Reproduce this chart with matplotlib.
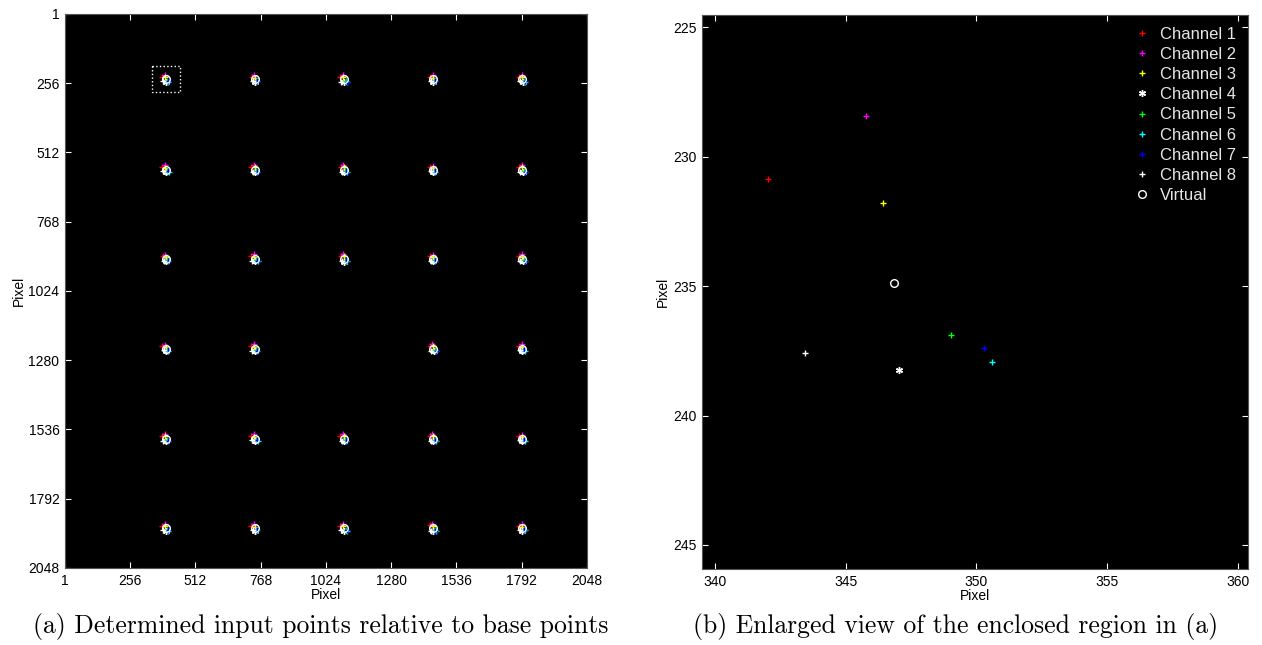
import matplotlib
matplotlib.use("Agg")
import matplotlib.pyplot as plt
from matplotlib.patches import Rectangle

# ---------------------------------------------------------------------------
# Panel (a): virtual grid points (image pixels) and per-channel offsets
# ---------------------------------------------------------------------------
grid_cols = [396, 745, 1095, 1445, 1795]
grid_rows = [243, 576, 906, 1238, 1570, 1902]
# (row, column) grid positions without a detected point
missing_cells = [(3, 2)]

# Offsets of each channel's input point from its virtual point (pixels),
# listed row by row over the detected grid points
ch1_dx = [-13, -12, -14, -12, -15, -13, -13, -12, -14, -13, -12, -14, -13, -14, -13,
          -13, -14, -12, -13, -14, -13, -14, -12, -15, -13, -13, -14, -12, -13]
ch1_dy = [-10, -9, -11, -9, -10, -10, -10, -11, -9, -10, -9, -10, -11, -9, -10,
          -9, -10, -11, -9, -10, -9, -11, -10, -9, -10, -9, -10, -11, -9]
ch2_dx = [-3, -2, -4, -2, -3, -4, -2, -3, -2, -3, -2, -4, -3, -2, -3,
          -2, -3, -4, -2, -3, -4, -2, -3, -2, -3, -2, -4, -3, -2]
ch2_dy = [-17, -16, -18, -15, -17, -16, -17, -18, -15, -17, -16, -17, -18, -16, -17,
          -15, -17, -18, -16, -17, -16, -18, -17, -15, -17, -16, -17, -18, -16]
ch3_dx = [-1, 0, -2, 0, -1, -2, 0, -1, 0, -1, 0, -2, -1, 0, -1,
          0, -1, -2, 0, -1, -2, 0, -1, 0, -1, 0, -2, -1, 0]
ch3_dy = [-8, -7, -9, -7, -8, -7, -8, -9, -7, -8, -7, -8, -9, -7, -8,
          -7, -8, -9, -7, -8, -7, -9, -8, -7, -8, -7, -8, -9, -7]
ch4_dx = [1, 0, 2, 0, 1, 2, 0, 1, 0, 1, 0, 2, 1, 0, 1,
          0, 1, 2, 0, 1, 2, 0, 1, 0, 1, 0, 2, 1, 0]
ch4_dy = [9, 8, 10, 8, 9, 8, 9, 10, 8, 9, 8, 9, 10, 8, 9,
          8, 9, 10, 8, 9, 8, 10, 9, 8, 9, 8, 9, 10, 8]
ch5_dx = [6, 5, 7, 5, 6, 7, 5, 6, 5, 6, 5, 7, 6, 5, 6,
          5, 6, 7, 5, 6, 7, 5, 6, 5, 6, 5, 7, 6, 5]
ch5_dy = [5, 4, 6, 4, 5, 4, 5, 6, 4, 5, 4, 5, 6, 4, 5,
          4, 5, 6, 4, 5, 4, 6, 5, 4, 5, 4, 5, 6, 4]
ch6_dx = [10, 9, 11, 9, 10, 11, 9, 10, 9, 10, 9, 11, 10, 9, 10,
          9, 10, 11, 9, 10, 11, 9, 10, 9, 10, 9, 11, 10, 9]
ch6_dy = [8, 7, 9, 7, 8, 7, 8, 9, 7, 8, 7, 8, 9, 7, 8,
          7, 8, 9, 7, 8, 7, 9, 8, 7, 8, 7, 8, 9, 7]
ch7_dx = [9, 8, 10, 8, 9, 10, 8, 9, 8, 9, 8, 10, 9, 8, 9,
          8, 9, 10, 8, 9, 10, 8, 9, 8, 9, 8, 10, 9, 8]
ch7_dy = [7, 6, 8, 6, 7, 6, 7, 8, 6, 7, 6, 7, 8, 6, 7,
          6, 7, 8, 6, 7, 6, 8, 7, 6, 7, 6, 7, 8, 6]
ch8_dx = [-9, -8, -10, -8, -9, -10, -8, -9, -8, -9, -8, -10, -9, -8, -9,
          -8, -9, -10, -8, -9, -10, -8, -9, -8, -9, -8, -10, -9, -8]
ch8_dy = [7, 6, 8, 6, 7, 6, 7, 8, 6, 7, 6, 7, 8, 6, 7,
          6, 7, 8, 6, 7, 6, 8, 7, 6, 7, 6, 7, 8, 6]

# Region enclosed by the dotted box (pixels)
box_x0, box_x1 = 342, 452
box_y0, box_y1 = 192, 288

# ---------------------------------------------------------------------------
# Panel (b): enlarged view of one grid point
# ---------------------------------------------------------------------------
zoom_ch_x = [342.02, 345.79, 346.44, 347.05, 349.02, 350.60, 350.29, 343.44]
zoom_ch_y = [230.87, 228.41, 231.78, 238.23, 236.88, 237.93, 237.38, 237.57]
zoom_virt_x = [346.83]
zoom_virt_y = [234.88]

channel_labels = ["Channel 1", "Channel 2", "Channel 3", "Channel 4",
                  "Channel 5", "Channel 6", "Channel 7", "Channel 8"]
channel_colors = ["#ff0000", "#ff00ff", "#ffff00", "#ffffff",
                  "#00ff00", "#00ffff", "#0000ff", "#ffffff"]
channel_markers = ["+", "+", "+", (6, 2, 0), "+", "+", "+", "+"]
virtual_label = "Virtual"

tick_pix = [1, 256, 512, 768, 1024, 1280, 1536, 1792, 2048]
zoom_xticks = [340, 345, 350, 355, 360]
zoom_yticks = [225, 230, 235, 240, 245]

# ---------------------------------------------------------------------------
plt.rcParams["font.family"] = ["Liberation Sans", "DejaVu Sans"]
plt.rcParams["font.size"] = 10

fig = plt.figure(figsize=(12.62, 6.45), dpi=100)
ax_a = fig.add_axes([0.0515, 0.1194, 0.4136, 0.8589])
ax_b = fig.add_axes([0.5563, 0.1178, 0.4326, 0.8589])


def style_axes(ax):
    ax.set_facecolor("black")
    for sp in ax.spines.values():
        sp.set_color("#555555")
        sp.set_linewidth(0.8)
    ax.tick_params(direction="in", length=4, width=0.8, color="white",
                   top=True, right=True, labelsize=10, pad=4)


ch_dx = [ch1_dx, ch2_dx, ch3_dx, ch4_dx, ch5_dx, ch6_dx, ch7_dx, ch8_dx]
ch_dy = [ch1_dy, ch2_dy, ch3_dy, ch4_dy, ch5_dy, ch6_dy, ch7_dy, ch8_dy]

virt_x, virt_y = [], []
for r, gy in enumerate(grid_rows):
    for c, gx in enumerate(grid_cols):
        if (r, c) in missing_cells:
            continue
        virt_x.append(gx)
        virt_y.append(gy)

# Panel (a)
style_axes(ax_a)
for k in range(8):
    xs = [vx + d for vx, d in zip(virt_x, ch_dx[k])]
    ys = [vy + d for vy, d in zip(virt_y, ch_dy[k])]
    ax_a.plot(xs, ys, linestyle="none", marker=channel_markers[k],
              color=channel_colors[k], markersize=5, markeredgewidth=1)
ax_a.plot(virt_x, virt_y, linestyle="none", marker="o", markersize=5.5,
          markerfacecolor="none", markeredgecolor="white", markeredgewidth=1)
ax_a.add_patch(Rectangle((box_x0, box_y0), box_x1 - box_x0, box_y1 - box_y0,
                         fill=False, edgecolor="white", linestyle=":", linewidth=1))
ax_a.set_xlim(1, 2048)
ax_a.set_ylim(2048, 1)
ax_a.set_xticks(tick_pix)
ax_a.set_yticks(tick_pix)
ax_a.set_xlabel("Pixel", fontsize=10, labelpad=0.5)
ax_a.set_ylabel("Pixel", fontsize=10, labelpad=2)

# Panel (b)
style_axes(ax_b)
for k in range(8):
    ax_b.plot([zoom_ch_x[k]], [zoom_ch_y[k]], linestyle="none",
              marker=channel_markers[k], color=channel_colors[k],
              markersize=5, markeredgewidth=1, label=channel_labels[k])
ax_b.plot(zoom_virt_x, zoom_virt_y, linestyle="none", marker="o", markersize=5.5,
          markerfacecolor="none", markeredgecolor="white", markeredgewidth=1,
          label=virtual_label)
ax_b.set_xlim(339.5, 360.4)
ax_b.set_ylim(245.93, 224.52)
ax_b.set_xticks(zoom_xticks)
ax_b.set_yticks(zoom_yticks)
ax_b.set_xlabel("Pixel", fontsize=10, labelpad=0.5)
ax_b.set_ylabel("Pixel", fontsize=10, labelpad=2)
leg = ax_b.legend(loc="upper right", frameon=False, fontsize=12,
                  labelspacing=0.31, handletextpad=0.6, borderaxespad=0.3,
                  handlelength=1.0)
for t in leg.get_texts():
    t.set_color("#e6e6e6")

# Sub-figure captions
fig.text(0.254, 0.019, "(a) Determined input points relative to base points",
         ha="center", va="baseline", family="cmr10", fontsize=18.5)
fig.text(0.757, 0.019, "(b) Enlarged view of the enclosed region in (a)",
         ha="center", va="baseline", family="cmr10", fontsize=18.5)

fig.savefig("out.png", dpi=100)
